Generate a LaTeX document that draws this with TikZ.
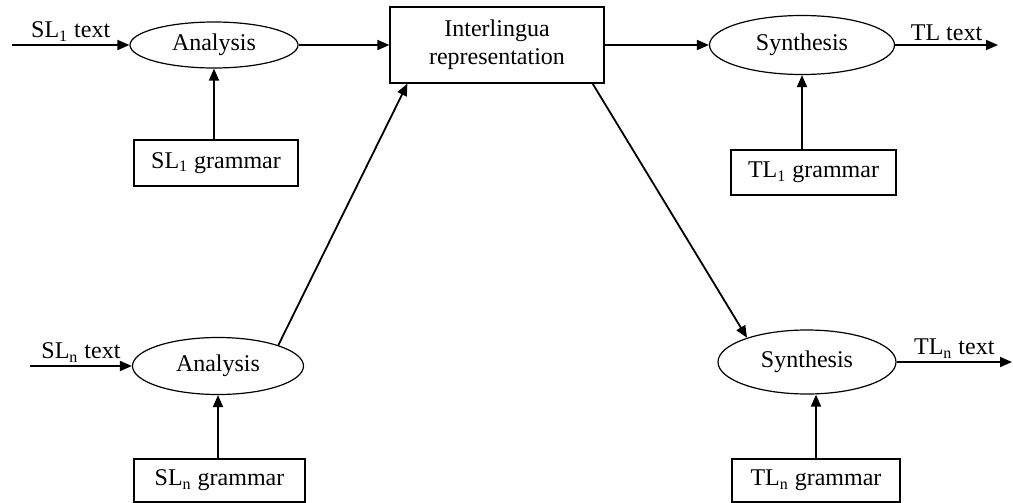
\documentclass[tikz,border=0pt]{standalone}
\usepackage{fontspec}
\setmainfont{Liberation Serif}
\usetikzlibrary{shapes.geometric,arrows.meta}
\begin{document}
\begin{tikzpicture}[x=0.5pt,y=-0.5pt,
  font=\fontsize{12}{14}\selectfont,
  proc/.style={ellipse,draw,line width=0.6pt,inner sep=0pt},
  gbox/.style={rectangle,draw,line width=0.6pt,inner sep=0pt},
  flow/.style={line width=0.9pt,-{Triangle[length=6pt,width=5pt]}},
  lbl/.style={midway,above,inner sep=1.5pt}]
\useasboundingbox (0,0) rectangle (1013,503);

% source and target processes
\node[proc,minimum width=84pt,minimum height=23pt] (a1) at (214,45) {Analysis};
\node[proc,minimum width=92.5pt,minimum height=29.5pt] (s1) at (802,45) {Synthesis};
\node[proc,minimum width=85.5pt,minimum height=28.5pt] (a2) at (218,366) {Analysis};
\node[proc,minimum width=89pt,minimum height=32pt] (s2) at (807,362) {Synthesis};

% grammars and the interlingua
\node[gbox,minimum width=107pt,minimum height=38pt,align=center] (il) at (497,45)
  {Interlingua\\representation};
\node[gbox,minimum width=82pt,minimum height=23pt] (g1) at (216,163) {SL\textsubscript{1} grammar};
\node[gbox,minimum width=82.5pt,minimum height=22.5pt] (t1) at (813.5,172.5) {TL\textsubscript{1} grammar};
\node[gbox,minimum width=85.5pt,minimum height=21.5pt] (g2) at (219.5,480.5) {SL\textsubscript{n} grammar};
\node[gbox,minimum width=84pt,minimum height=21.5pt] (t2) at (816,480.5) {TL\textsubscript{n} grammar};

% free ends of the text arrows
\coordinate (in1) at (12,45);
\coordinate (out1) at (998,45);
\coordinate (in2) at (30,366);
\coordinate (out2) at (1012,362);

% text in and out
\draw[flow] (in1) -- (a1.west) node[lbl] {SL\textsubscript{1} text};
\draw[flow] (s1.east) -- (out1) node[lbl] {TL text};
\draw[flow] (in2) -- (a2.west) node[lbl] {SL\textsubscript{n} text};
\draw[flow] (s2.east) -- (out2) node[lbl] {TL\textsubscript{n} text};

% through the interlingua
\draw[flow] (a1.east) -- (il.west);
\draw[flow] (il.east) -- (s1.west);
\draw[flow] (a2.19) -- ([xshift=9pt]il.south west);
\draw[flow] ([xshift=-6pt]il.south east) -- (s2.158);

% grammars feed the processes
\draw[flow] (a1.south |- g1.north) -- (a1.south);
\draw[flow] (s1.south |- t1.north) -- (s1.south);
\draw[flow] (a2.south |- g2.north) -- (a2.south);
\draw[flow] (t2.north) -- (t2.north |- s2.south);
\end{tikzpicture}
\end{document}
